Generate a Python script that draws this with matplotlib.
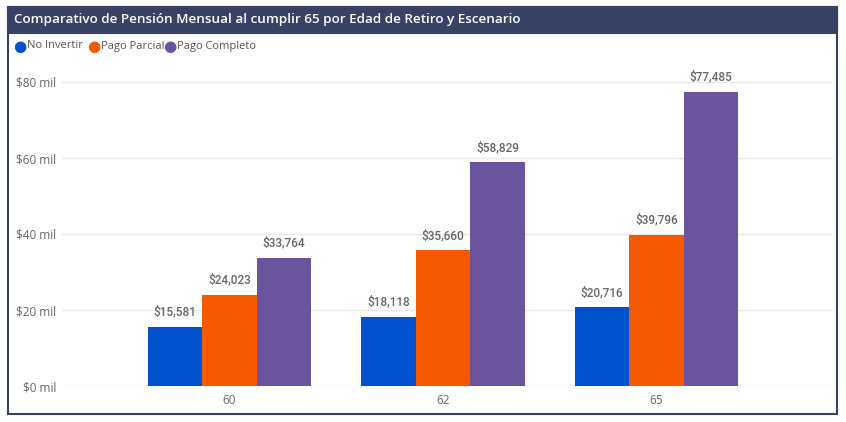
import numpy as np
import matplotlib.pyplot as plt
from matplotlib.patches import Rectangle

# Datos
edades = ["60", "62", "65"]
escenarios = ["No Invertir", "Pago Parcial", "Pago Completo"]
no_invertir = [15581, 18118, 20716]
pago_parcial = [24023, 35660, 39796]
pago_completo = [33764, 58829, 77485]
y_ticks = [0, 20000, 40000, 60000, 80000]
y_tick_labels = ["$0 mil", "$20 mil", "$40 mil", "$60 mil", "$80 mil"]

colores = ["#0051CB", "#F55A00", "#6B549E"]
W, H = 846, 422

fig = plt.figure(figsize=(W / 100, H / 100), dpi=100)
fig.patch.set_facecolor("white")

# Marco y barra de título
fig.add_artist(Rectangle((8 / W, 1 - 414 / H), 829 / W, 407 / H, transform=fig.transFigure,
                         facecolor="none", edgecolor="#384166", linewidth=1.5))
fig.add_artist(Rectangle((8 / W, 1 - 33 / H), 829 / W, 26 / H, transform=fig.transFigure,
                         facecolor="#384166", edgecolor="#384166", linewidth=1.5))
fig.text(14 / W, 1 - 20 / H, "Comparativo de Pensión Mensual al cumplir 65 por Edad de Retiro y Escenario",
         color="white", fontsize=9.7, fontweight="semibold", family="Open Sans", va="center")

# Leyenda
leg_x = [20, 94, 170]
for lx, nombre, c in zip(leg_x, escenarios, colores):
    fig.text(lx / W, 1 - 46.5 / H, "●", color=c, fontsize=11, va="center", ha="center",
             family="DejaVu Sans")
    fig.text((lx + 7) / W, 1 - 46 / H, nombre, color="#555555", fontsize=8,
             family="Open Sans", va="center")

# Ejes: base en y=386, 80k en y=82
px_por_mil = (386 - 82) / 80
ymax = 85000
top_px = 386 - px_por_mil * ymax / 1000
ax = fig.add_axes([62 / W, 1 - 386 / H, (833 - 62) / W, (386 - top_px) / H])
ax.set_xlim(-0.785, 2.827)
ax.set_ylim(0, ymax)

x = np.arange(len(edades))
ancho = 0.255
series = [no_invertir, pago_parcial, pago_completo]
for i, (vals, c) in enumerate(zip(series, colores)):
    pos = x + (i - 1) * ancho
    ax.bar(pos, vals, width=ancho, color=c, zorder=3)
    for p, v in zip(pos, vals):
        ax.annotate(f"${v:,}", (p, v), xytext=(0, 6), textcoords="offset points",
                    ha="center", va="bottom", fontsize=8.5, color="#666666",
                    family="Roboto", fontweight="medium", clip_on=False)

ax.set_yticks(y_ticks)
ax.set_yticklabels(y_tick_labels)
ax.set_xticks(x)
ax.set_xticklabels(edades)
ax.grid(axis="y", color="#E8E8E8", linewidth=1, zorder=0)
for s in ax.spines.values():
    s.set_visible(False)
ax.tick_params(length=0, labelsize=8.5, labelcolor="#666666", pad=6)
ax.tick_params(axis="y", pad=4)
for lab in ax.get_xticklabels() + ax.get_yticklabels():
    lab.set_family("Open Sans")

fig.savefig("out.png", dpi=100)
